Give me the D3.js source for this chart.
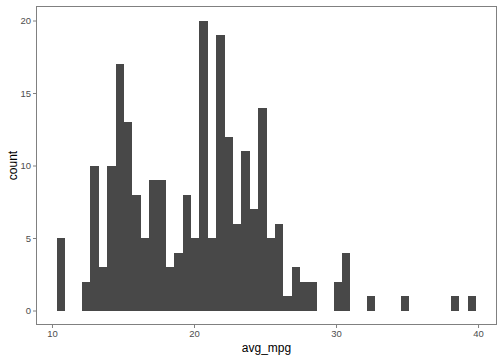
<!DOCTYPE html>
<html lang="en">
<head>
    <meta charset="UTF-8">
    <title>avg_mpg histogram</title>
    <script src="https://d3js.org/d3.v7.min.js"></script>
    <style>
        body {
            margin: 0;
            padding: 0;
            background-color: #ffffff;
            font-family: "Liberation Sans", Arial, sans-serif;
        }
        .tick text {
            fill: #4d4d4d;
            font-size: 9.5px;
        }
        .tick line {
            stroke: #808080;
        }
        .axis-title {
            font-size: 12px;
            fill: #000;
        }
    </style>
</head>
<body>
<div id="chart"></div>
<script>
    // histogram of avg_mpg: 50 bins, first bin starts at binStart
    const binStart = 10.35;
    const binWidth = 0.5902;
    const counts = [
        5, 0, 0, 2, 10, 3, 10, 17, 13, 8,
        5, 9, 9, 3, 4, 8, 5, 20, 5, 19,
        12, 6, 11, 7, 14, 5, 6, 1, 3, 2,
        2, 0, 0, 2, 4, 0, 0, 1, 0, 0,
        0, 1, 0, 0, 0, 0, 0, 1, 0, 1
    ];
    const xTicks = [10, 20, 30, 40];
    const yTicks = [0, 5, 10, 15, 20];

    const width = 504, height = 360;
    const margin = {top: 6, right: 7, bottom: 35, left: 36};

    const bins = counts.map((c, i) => ({
        x0: binStart + i * binWidth,
        x1: binStart + (i + 1) * binWidth,
        count: c
    }));

    const xMin = bins[0].x0, xMax = bins[bins.length - 1].x1;
    const xPad = (xMax - xMin) * 0.05;
    const yMax = d3.max(counts);

    const x = d3.scaleLinear()
        .domain([xMin - xPad, xMax + xPad])
        .range([margin.left, width - margin.right]);

    const y = d3.scaleLinear()
        .domain([-yMax * 0.05, yMax * 1.05])
        .range([height - margin.bottom, margin.top]);

    const svg = d3.select("#chart").append("svg")
        .attr("width", width)
        .attr("height", height);

    svg.append("g")
        .selectAll("rect")
        .data(bins.filter(d => d.count > 0))
        .join("rect")
        .attr("x", d => x(d.x0))
        .attr("width", d => x(d.x1) - x(d.x0))
        .attr("y", d => y(d.count))
        .attr("height", d => y(0) - y(d.count))
        .attr("fill", "#484848")
        .attr("shape-rendering", "crispEdges");

    // panel border
    svg.append("rect")
        .attr("x", margin.left + 0.5)
        .attr("y", margin.top + 0.5)
        .attr("width", width - margin.left - margin.right - 1)
        .attr("height", height - margin.top - margin.bottom - 1)
        .attr("fill", "none")
        .attr("stroke", "#808080")
        .attr("stroke-width", 1);

    const xAxis = svg.append("g")
        .attr("transform", `translate(0,${height - margin.bottom})`)
        .call(d3.axisBottom(x).tickValues(xTicks).tickSize(3).tickPadding(2));
    xAxis.select(".domain").remove();

    const yAxis = svg.append("g")
        .attr("transform", `translate(${margin.left},0)`)
        .call(d3.axisLeft(y).tickValues(yTicks).tickSize(3).tickPadding(2));
    yAxis.select(".domain").remove();

    svg.selectAll(".tick text").style("font-family", "'Liberation Sans', Arial, sans-serif");

    svg.append("text")
        .attr("class", "axis-title")
        .attr("x", (margin.left + width - margin.right) / 2)
        .attr("y", 352)
        .attr("text-anchor", "middle")
        .text("avg_mpg");

    svg.append("text")
        .attr("class", "axis-title")
        .attr("transform", `translate(17,${(margin.top + height - margin.bottom) / 2}) rotate(-90)`)
        .attr("text-anchor", "middle")
        .text("count");
</script>
</body>
</html>
